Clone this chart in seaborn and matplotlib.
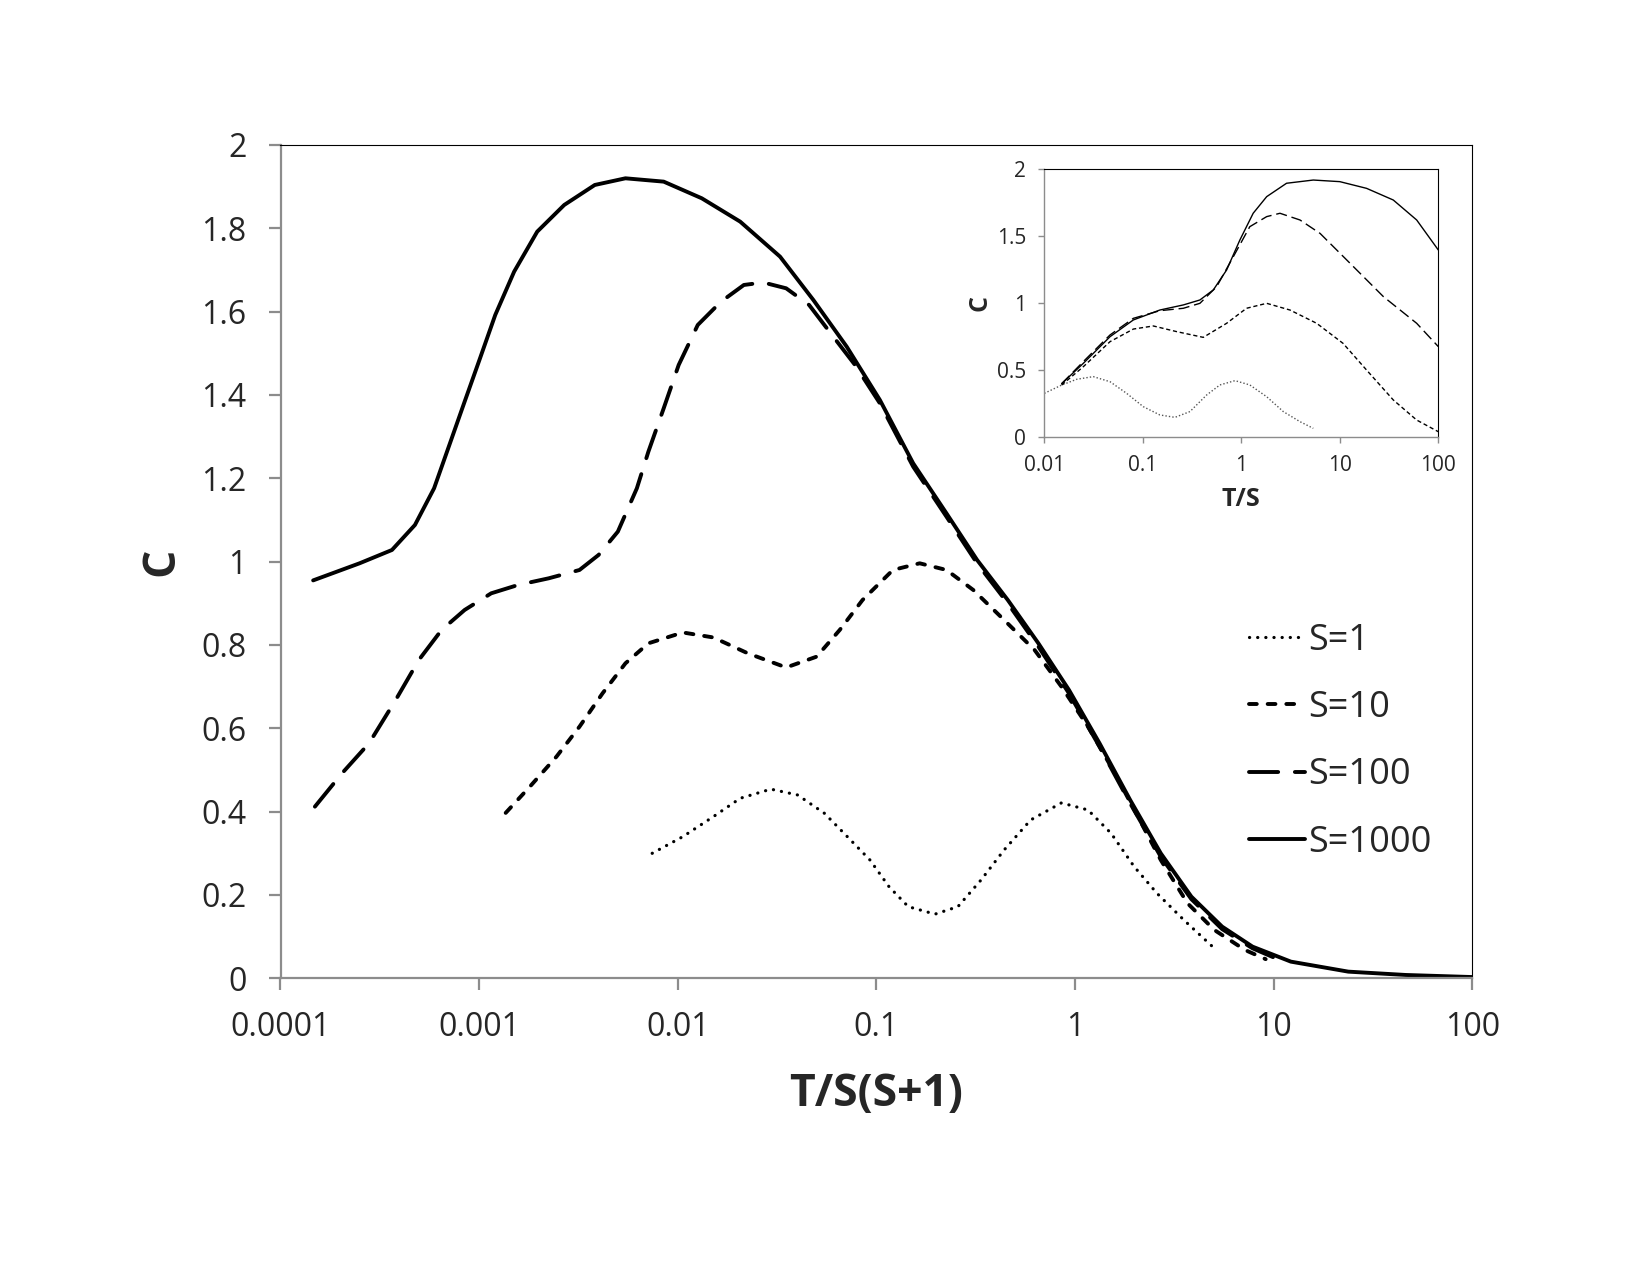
import pandas as pd
import matplotlib
matplotlib.use("Agg")
import matplotlib.pyplot as plt
import seaborn as sns

# ===== main plot data: C vs T/S(S+1) =====
x_s1 = [7.43e-3, 1.06e-2, 1.51e-2, 2.06e-2, 2.94e-2, 4.01e-2, 5.47e-2, 7.13e-2, 9.27e-2,
        0.1156, 0.1445, 0.197, 0.257, 0.336, 0.439, 0.597, 0.853, 1.161, 1.517,
        1.982, 2.582, 3.524, 5.02]
c_s1 = [0.300, 0.340, 0.388, 0.432, 0.454, 0.440, 0.396, 0.340, 0.284,
        0.220, 0.172, 0.154, 0.172, 0.236, 0.308, 0.380, 0.421, 0.404, 0.348,
        0.268, 0.204, 0.140, 0.072]

x_s10 = [1.36e-3, 1.80e-3, 2.45e-3, 3.20e-3, 4.18e-3, 5.45e-3, 7.11e-3, 1.06e-2, 1.51e-2,
         2.25e-2, 3.51e-2, 5.00e-2, 6.53e-2, 8.51e-2, 0.121, 0.165, 0.225, 0.307, 0.439,
         0.625, 0.853, 1.161, 1.585, 2.07, 2.698, 3.68, 5.02, 7.16, 9.1]
c_s10 = [0.397, 0.460, 0.532, 0.604, 0.684, 0.756, 0.804, 0.830, 0.818,
         0.780, 0.746, 0.772, 0.836, 0.908, 0.980, 0.996, 0.980, 0.932, 0.860,
         0.788, 0.700, 0.604, 0.492, 0.388, 0.284, 0.180, 0.116, 0.068, 0.046]

x_s100 = [1.49e-4, 2.04e-4, 2.79e-4, 3.80e-4, 4.97e-4, 6.47e-4, 8.45e-4, 1.15e-3, 1.57e-3,
          2.24e-3, 3.20e-3, 3.99e-3, 4.99e-3, 6.22e-3, 7.11e-3, 8.49e-3, 1.01e-2, 1.26e-2,
          1.65e-2, 2.15e-2, 2.69e-2, 3.51e-2, 4.58e-2, 5.97e-2, 7.80e-2, 0.104, 0.153,
          0.225, 0.321, 0.458, 0.653, 0.931, 1.327, 1.892, 2.698, 3.846, 5.495, 7.816, 10]
c_s100 = [0.412, 0.492, 0.564, 0.668, 0.764, 0.836, 0.884, 0.924, 0.944,
          0.960, 0.980, 1.016, 1.072, 1.176, 1.264, 1.368, 1.472, 1.568,
          1.624, 1.664, 1.670, 1.656, 1.616, 1.544, 1.472, 1.380, 1.228,
          1.108, 0.996, 0.900, 0.796, 0.684, 0.556, 0.420, 0.292, 0.190, 0.118, 0.072, 0.050]

x_s1000 = [1.46e-4, 2.50e-4, 3.64e-4, 4.75e-4, 5.93e-4, 7.08e-4, 8.45e-4, 1.01e-3, 1.205e-3,
           1.50e-3, 1.96e-3, 2.68e-3, 3.82e-3, 5.45e-3, 8.49e-3, 1.32e-2, 2.06e-2, 3.27e-2,
           4.81e-2, 7.08e-2, 0.104, 0.153, 0.225, 0.321, 0.458, 0.653, 0.931, 1.327,
           1.892, 2.698, 3.846, 5.495, 7.816, 12.19, 23.71, 46.13, 100]
c_s1000 = [0.955, 0.996, 1.028, 1.088, 1.176, 1.280, 1.384, 1.488, 1.592,
           1.696, 1.792, 1.856, 1.904, 1.920, 1.912, 1.872, 1.816, 1.732,
           1.628, 1.516, 1.388, 1.236, 1.116, 1.004, 0.908, 0.804, 0.692, 0.564,
           0.428, 0.300, 0.196, 0.124, 0.076, 0.040, 0.016, 0.008, 0.003]

# ===== inset data: C vs T/S =====
xi_s1 = [0.01, 0.015, 0.0213, 0.0314, 0.0465, 0.0686, 0.101, 0.149, 0.212,
         0.301, 0.445, 0.607, 0.863, 1.22, 1.81, 2.67, 3.94, 5.38]
ci_s1 = [0.328, 0.39, 0.433, 0.453, 0.415, 0.328, 0.229, 0.167, 0.149,
         0.192, 0.316, 0.391, 0.423, 0.391, 0.303, 0.192, 0.117, 0.067]

xi_s10 = [0.015, 0.0249, 0.0465, 0.0802, 0.128, 0.220, 0.411, 0.710, 1.13,
          1.81, 3.12, 5.82, 10.8, 18.7, 34.9, 60.3, 100]
ci_s10 = [0.39, 0.527, 0.714, 0.808, 0.831, 0.789, 0.746, 0.851, 0.963,
          1.0, 0.950, 0.851, 0.701, 0.502, 0.279, 0.129, 0.042]

xi_s100 = [0.015, 0.0249, 0.0465, 0.0802, 0.149, 0.258, 0.380, 0.562, 0.830,
           1.22, 1.81, 2.47, 3.94, 6.30, 12.7, 27.7, 60.3, 100]
ci_s100 = [0.40, 0.565, 0.764, 0.888, 0.945, 0.963, 1.0, 1.124, 1.348,
           1.572, 1.647, 1.672, 1.622, 1.522, 1.299, 1.05, 0.851, 0.677]

xi_s1000 = [0.015, 0.0249, 0.0465, 0.0802, 0.149, 0.258, 0.380, 0.520, 0.710,
            0.968, 1.32, 1.81, 2.88, 5.38, 10.0, 18.7, 34.9, 60.3, 100]
ci_s1000 = [0.40, 0.552, 0.751, 0.876, 0.950, 0.988, 1.025, 1.10, 1.249,
            1.473, 1.672, 1.796, 1.896, 1.92, 1.908, 1.858, 1.771, 1.622, 1.398]

labels = ["S=1", "S=10", "S=100", "S=1000"]
x_ticks = [0.0001, 0.001, 0.01, 0.1, 1, 10, 100]
x_ticklabels = ["0.0001", "0.001", "0.01", "0.1", "1", "10", "100"]
y_ticks = [0, 0.2, 0.4, 0.6, 0.8, 1, 1.2, 1.4, 1.6, 1.8, 2]
y_ticklabels = ["0", "0.2", "0.4", "0.6", "0.8", "1", "1.2", "1.4", "1.6", "1.8", "2"]
xi_ticks = [0.01, 0.1, 1, 10, 100]
xi_ticklabels = ["0.01", "0.1", "1", "10", "100"]
yi_ticks = [0, 0.5, 1, 1.5, 2]
yi_ticklabels = ["0", "0.5", "1", "1.5", "2"]

sns.set_style("white")
plt.rcParams["font.family"] = ["Open Sans", "DejaVu Sans"]

main_sets = [(x_s1, c_s1), (x_s10, c_s10), (x_s100, c_s100), (x_s1000, c_s1000)]
inset_sets = [(xi_s1, ci_s1), (xi_s10, ci_s10), (xi_s100, ci_s100), (xi_s1000, ci_s1000)]

# line styles (dash patterns in units of linewidth, round caps add one lw)
main_styles = [(0, (0.05, 2.5)), (0, (2.0, 2.8)), (0, (7.5, 4.3)), "solid"]
main_widths = [2.3, 2.8, 2.8, 2.8]
inset_styles = [(0, (1, 1.5)), (0, (3, 2)), (0, (8, 3.5)), "solid"]
inset_colors = ["#555555", "black", "black", "black"]


def style_axes(ax, tick_len, lw_axis):
    ax.set_xscale("log")
    ax.minorticks_off()
    for side in ["top", "right"]:
        ax.spines[side].set_color("black")
        ax.spines[side].set_linewidth(0.8)
    for side in ["left", "bottom"]:
        ax.spines[side].set_color("#8c8c8c")
        ax.spines[side].set_linewidth(lw_axis)
    ax.tick_params(axis="both", which="major", direction="out", length=tick_len,
                   width=lw_axis, color="#8c8c8c", left=True, bottom=True)


fig = plt.figure(figsize=(16.5, 12.75), dpi=100)

# ===== main axes =====
ax = fig.add_axes([0.170, 0.2327, 0.7224, 0.6536])
for (xs, cs), lab, ls, lw in zip(main_sets, labels, main_styles, main_widths):
    df = pd.DataFrame({"x": xs, "C": cs})
    sns.lineplot(data=df, x="x", y="C", ax=ax, color="black", linewidth=lw,
                 linestyle=ls, label=lab, sort=False, estimator=None,
                 dash_capstyle="round", solid_capstyle="round")
style_axes(ax, 8.5, 1.6)
ax.set_xlim(1e-4, 100)
ax.set_ylim(0, 2)
ax.set_xticks(x_ticks)
ax.set_xticklabels(x_ticklabels, fontsize=23)
ax.set_yticks(y_ticks)
ax.set_yticklabels(y_ticklabels, fontsize=23)
ax.tick_params(axis="x", pad=15)
ax.tick_params(axis="y", pad=16)
ax.set_xlabel("T/S(S+1)", fontsize=32, fontweight="bold", labelpad=20)
ax.set_ylabel("C", fontsize=32, fontweight="bold", labelpad=12)
ax.legend(loc="center left", bbox_to_anchor=(0.797, 0.284), frameon=False, fontsize=26,
          borderpad=0, handlelength=1.55, handletextpad=0.1, labelspacing=0.87)

# ===== inset axes =====
axi = fig.add_axes([0.6329, 0.657, 0.2388, 0.2102])
for (xs, cs), ls, col in zip(inset_sets, inset_styles, inset_colors):
    df = pd.DataFrame({"x": xs, "C": cs})
    sns.lineplot(data=df, x="x", y="C", ax=axi, color=col, linewidth=1.0,
                 linestyle=ls, sort=False, estimator=None, legend=False)
style_axes(axi, 4, 1.0)
axi.set_xlim(0.01, 100)
axi.set_ylim(0, 2)
axi.set_xticks(xi_ticks)
axi.set_xticklabels(xi_ticklabels, fontsize=15)
axi.set_yticks(yi_ticks)
axi.set_yticklabels(yi_ticklabels, fontsize=15)
axi.tick_params(axis="both", pad=9)
axi.set_xlabel("T/S", fontsize=18, fontweight="bold", labelpad=8)
axi.set_ylabel("C", fontsize=18, fontweight="bold", labelpad=3)

fig.savefig("out.png", dpi=100, facecolor="white")
plt.close(fig)
